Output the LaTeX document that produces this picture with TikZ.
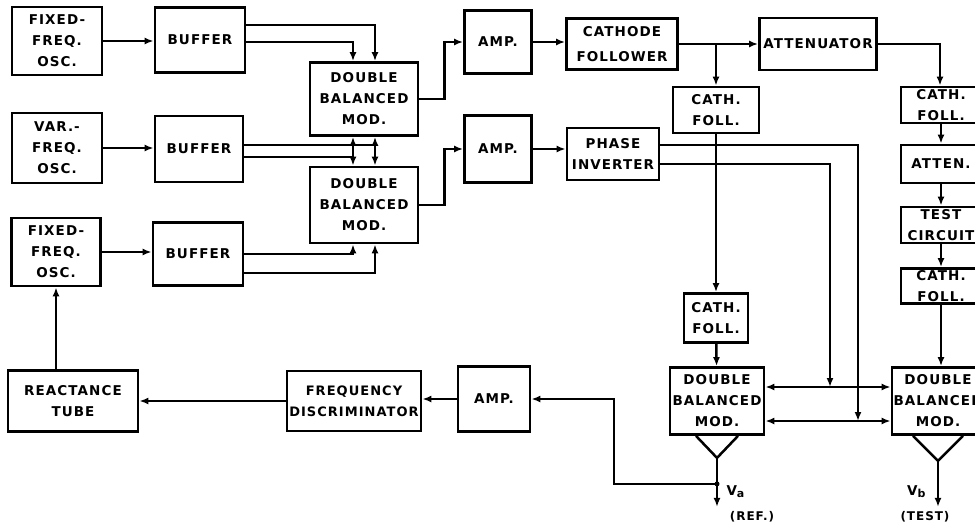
\documentclass[tikz,border=0pt]{standalone}
\usepackage{fontspec}
\newfontfamily\blkfont[LetterSpace=8]{DejaVu Sans}
\usepackage{tikz}
\usetikzlibrary{positioning, calc, arrows.meta}

\begin{document}
\begin{tikzpicture}[
  x=1pt, y=-1pt,
  every node/.style={font=\blkfont\bfseries\fontsize{13.5}{21}\selectfont},
  blk/.style={draw, line width=2.8pt, align=center, inner sep=0pt},
  sig/.style={line width=2.5pt},
  arr/.style={sig, -{Latex[length=9pt,width=7pt]}},
]
  \useasboundingbox (0,0) rectangle (975,525);
  \clip (0,0) rectangle (975,525);

  % Oscillators, buffers and the first two modulators
  \node[blk, minimum width=90, minimum height=68] (osc1) at (57,41) {FIXED-\\FREQ.\\OSC.};
  \node[blk, minimum width=90, minimum height=65] (buf1) at (200,40) {BUFFER};
  \node[blk, minimum width=108, minimum height=73] (dbm1) at (364,99) {DOUBLE\\BALANCED\\MOD.};
  \node[blk, minimum width=90, minimum height=70] (osc2) at (57,148) {VAR.-\\FREQ.\\OSC.};
  \node[blk, minimum width=88, minimum height=66] (buf2) at (199,149) {BUFFER};
  \node[blk, minimum width=108, minimum height=76] (dbm2) at (364,205) {DOUBLE\\BALANCED\\MOD.};
  \node[blk, minimum width=89, minimum height=68] (osc3) at (56,252) {FIXED-\\FREQ.\\OSC.};
  \node[blk, minimum width=90, minimum height=63] (buf3) at (198,254) {BUFFER};

  % Amplifiers and followers
  \node[blk, minimum width=67, minimum height=63] (amp1) at (498,42) {AMP.};
  \node[blk, minimum width=67, minimum height=67] (amp2) at (498,149) {AMP.};
  \node[blk, minimum width=111, minimum height=51, font=\blkfont\bfseries\fontsize{13.5}{25}\selectfont]
    (cf) at (622,44) {CATHODE\\FOLLOWER};
  \node[blk, minimum width=92, minimum height=52] (pinv) at (613,154) {PHASE\\INVERTER};
  \node[blk, minimum width=117, minimum height=52] (atten) at (818,44) {ATTENUATOR};
  \node[blk, minimum width=86, minimum height=46] (cfa) at (716,110) {CATH.\\FOLL.};
  \node[blk, minimum width=64, minimum height=49] (cfb) at (716,318) {CATH.\\FOLL.};
  \node[blk, minimum width=94, minimum height=67] (dbmL) at (717,401) {DOUBLE\\BALANCED\\MOD.};

  % Test branch (right column)
  \node[blk, minimum width=80, minimum height=36] (cfr1) at (941,105) {CATH.\\FOLL.};
  \node[blk, minimum width=80, minimum height=38] (attr) at (941,164) {ATTEN.};
  \node[blk, minimum width=80, minimum height=36] (test) at (941,225) {TEST\\CIRCUIT};
  \node[blk, minimum width=80, minimum height=35] (cfr2) at (941,286) {CATH.\\FOLL.};
  \node[blk, minimum width=92, minimum height=67] (dbmR) at (938,401) {DOUBLE\\BALANCED\\MOD.};

  % Feedback loop
  \node[blk, minimum width=72, minimum height=65] (amp3) at (494,399) {AMP.};
  \node[blk, minimum width=134, minimum height=60, font=\blkfont\bfseries\fontsize{13}{21}\selectfont]
    (fdisc) at (354,401) {FREQUENCY\\DISCRIMINATOR};
  \node[blk, minimum width=130, minimum height=61] (rtube) at (73,401) {REACTANCE\\TUBE};

  % Connections: oscillators to buffers to modulators
  \draw[arr] (osc1.east) -- (osc1.east -| buf1.west);
  \draw[arr] (osc2.east) -- (osc2.east -| buf2.west);
  \draw[arr] (osc3.east) -- (osc3.east -| buf3.west);
  \draw[arr] ([yshift=15]buf1.east) -| ([xshift=11]dbm1.north);
  \draw[arr] ([yshift=-2]buf1.east) -| ([xshift=-11]dbm1.north);
  \draw[arr] ([yshift=4]buf2.east) -| ([xshift=11]dbm1.south);
  \draw[arr] ([yshift=4]buf2.east) -| ([xshift=11]dbm2.north);
  \draw[arr] ([yshift=-8]buf2.east) -| ([xshift=-11]dbm1.south);
  \draw[arr] ([yshift=-8]buf2.east) -| ([xshift=-11]dbm2.north);
  \draw[arr] (buf3.east) -| ([xshift=-11]dbm2.south);
  \draw[arr] ([yshift=-19]buf3.east) -| ([xshift=11]dbm2.south);

  % Modulators to amplifiers
  \draw[arr] (dbm1.east) -- ++(25,0) |- (amp1.west);
  \draw[arr] (dbm2.east) -- ++(25,0) |- (amp2.west);
  \draw[arr] (amp1.east) -- (amp1.east -| cf.west);
  \draw[arr] (amp2.east) -- (amp2.east -| pinv.west);
  \draw[arr] (cf.east) -- (cf.east -| atten.west);
  \coordinate (tapa) at (cf.east -| cfa.north);
  \draw[arr] (tapa) -- (cfa.north);
  \draw[arr] (cfa) -- (cfb);
  \draw[arr] (cfb) -- (dbmL);
  \draw[arr] (atten.east) -| ([xshift=-1]cfr1.north);
  \draw[arr] (cfr1) -- (attr);
  \draw[arr] (attr) -- (test);
  \draw[arr] (test) -- (cfr2);
  \draw[arr] (cfr2.south) -- (cfr2.south |- dbmR.north);

  % Phase inverter feeds both output modulators
  \coordinate (ja) at (830,387);
  \coordinate (jb) at (858,421);
  \draw[arr] ([yshift=-10]pinv.east) -| (ja);
  \draw[arr] ([yshift=9]pinv.east) -| (jb);
  \draw[arr] (ja) -- (ja -| dbmL.east);
  \draw[arr] (ja) -- (ja -| dbmR.west);
  \draw[arr] (jb) -- (jb -| dbmL.east);
  \draw[arr] (jb) -- (jb -| dbmR.west);

  % Detectors and outputs
  \coordinate (detL) at ([yshift=-22]dbmL.south);
  \coordinate (tap) at ([yshift=-48]dbmL.south);
  \coordinate (va) at ([yshift=-71]dbmL.south);
  \draw[sig] ([xshift=-21]dbmL.south) -- (detL) -- ([xshift=21]dbmL.south);
  \draw[arr] (detL) -- (va);
  \coordinate (detR) at ([yshift=-25]dbmR.south);
  \coordinate (vb) at ([yshift=-71]dbmR.south);
  \draw[sig] ([xshift=-25]dbmR.south) -- (detR) -- ([xshift=25]dbmR.south);
  \draw[arr] (detR) -- (vb);
  \node[anchor=west] (lva) at (723,492) {V\raisebox{-2pt}{\fontsize{11}{11}\selectfont a}};
  \node[font=\blkfont\bfseries\fontsize{12}{12}\selectfont] (lref) at (752,517) {(REF.)};
  \node[anchor=east] (lvb) at (929,492) {V\raisebox{-2pt}{\fontsize{11}{11}\selectfont b}};
  \node[font=\blkfont\bfseries\fontsize{12}{12}\selectfont] (ltest) at (925,517) {(TEST)};

  % Loop back to the oscillator
  \draw[arr] (tap) -- ++(-103,0) |- (amp3.east);
  \fill (tap) circle (2.5);
  \draw[arr] (amp3.west) -- (amp3.west -| fdisc.east);
  \draw[arr] (fdisc.west) -- (fdisc.west -| rtube.east);
  \draw[arr] (rtube.north -| osc3.south) -- (osc3.south);
\end{tikzpicture}
\end{document}
